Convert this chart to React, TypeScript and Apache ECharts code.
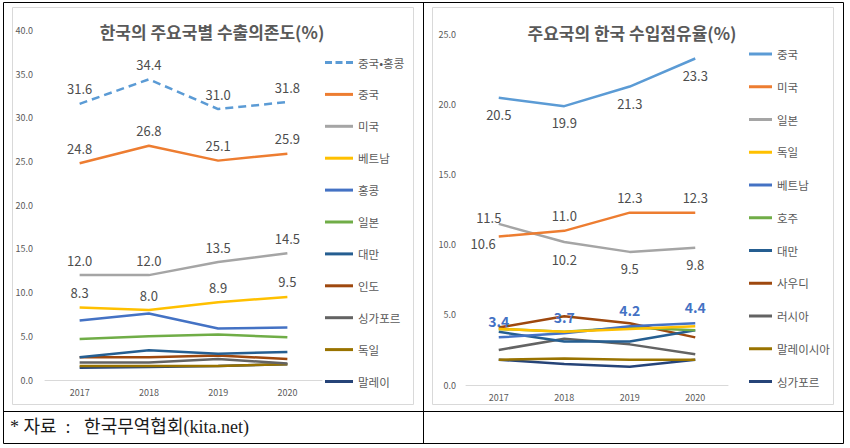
import React, { useEffect, useRef } from "react";
import * as echarts from "echarts";

const years = ["2017", "2018", "2019", "2020"];

// Left chart: 한국의 주요국별 수출의존도(%)
const leftNames = ["중국•홍콩", "중국", "미국", "베트남", "홍콩", "일본", "대만", "인도", "싱가포르", "독일", "말레이"];
const exChinaHK = [31.6, 34.4, 31.0, 31.8];
const exChina = [24.8, 26.8, 25.1, 25.9];
const exUSA = [12.0, 12.0, 13.5, 14.5];
const exVietnam = [8.3, 8.0, 8.9, 9.5];
const exHongKong = [6.8, 7.6, 5.9, 6.0];
const exJapan = [4.7, 5.0, 5.2, 4.9];
const exTaiwan = [2.6, 3.4, 3.0, 3.2];
const exIndia = [2.6, 2.6, 2.8, 2.4];
const exSingapore = [2.0, 2.0, 2.4, 1.9];
const exGermany = [1.6, 1.6, 1.6, 1.8];
const exMalaysia = [1.4, 1.5, 1.6, 1.8];
const leftValues = [exChinaHK, exChina, exUSA, exVietnam, exHongKong, exJapan, exTaiwan, exIndia, exSingapore, exGermany, exMalaysia];
const leftLabeled = [true, true, true, true, false, false, false, false, false, false, false];

// Right chart: 주요국의 한국 수입점유율(%)
const rightNames = ["중국", "미국", "일본", "독일", "베트남", "호주", "대만", "사우디", "러시아", "말레이시아", "싱가포르"];
const imChina = [20.5, 19.9, 21.3, 23.3];
const imUSA = [10.6, 11.0, 12.3, 12.3];
const imJapan = [11.5, 10.2, 9.5, 9.8];
const imGermany = [4.0, 3.8, 4.0, 4.2];
const imVietnam = [3.4, 3.7, 4.2, 4.4];
const imAustralia = [4.0, 3.8, 4.1, 3.9];
const imTaiwan = [3.8, 3.1, 3.1, 3.9];
const imSaudi = [4.1, 4.9, 4.4, 3.4];
const imRussia = [2.5, 3.3, 2.9, 2.2];
const imMalaysia = [1.8, 1.9, 1.8, 1.8];
const imSingapore = [1.8, 1.5, 1.3, 1.8];
const rightValues = [imChina, imUSA, imJapan, imGermany, imVietnam, imAustralia, imTaiwan, imSaudi, imRussia, imMalaysia, imSingapore];

const leftColors = ["#5B9BD5", "#ED7D31", "#A5A5A5", "#FFC000", "#4472C4", "#70AD47", "#255E91", "#9E480E", "#636363", "#997300", "#264478"];
const rightColors = ["#5B9BD5", "#ED7D31", "#A5A5A5", "#FFC000", "#4472C4", "#70AD47", "#255E91", "#9E480E", "#636363", "#997300", "#264478"];

const FONT = "'Noto Sans CJK KR', 'Noto Sans', sans-serif";
const R = "R:";
const DASH_ICON = "path://M0,0h7v3h-7z M10.5,0h7v3h-7z M21,0h7v3h-7z";
const SOURCE = "*\u00a0자료\u00a0\u00a0:\u00a0\u00a0\u00a0한국무역협회(kita.net)";

export default function App() {
  const ref = useRef<HTMLDivElement>(null);
  useEffect(() => {
    if (!ref.current) return;
    const chart = echarts.init(ref.current, null, { renderer: "svg" });
    const labelText = { color: "#4d4d4d", fontSize: 13, fontFamily: FONT };
    const fmt = (p: any) => Number(p.value).toFixed(1);

    const leftSeries = leftNames.map((n, i) => ({
      name: n,
      type: "line",
      xAxisIndex: 0,
      yAxisIndex: 0,
      data: leftValues[i],
      symbol: "circle",
      symbolSize: 0,
      showSymbol: true,
      z: 20 - i,
      lineStyle: { color: leftColors[i], width: 2.5, type: i === 0 ? [8, 5] : "solid" },
      itemStyle: { color: leftColors[i] },
      label: leftLabeled[i]
        ? { show: true, position: "top", distance: 8.5, formatter: fmt, ...labelText }
        : { show: false },
    }));

    const rightSeries = rightNames.map((n, i) => {
      let label: any = { show: false };
      let data: any[] = rightValues[i];
      if (i === 0) label = { show: true, position: "bottom", distance: 10, formatter: fmt, ...labelText };
      if (i === 1) {
        label = { show: true, position: "top", distance: 8.5, formatter: fmt, ...labelText };
        data = rightValues[i].map((v, k) =>
          k === 0 ? { value: v, label: { position: "left", distance: 3, offset: [0, 7] } } : v
        );
      }
      if (i === 2) {
        label = { show: true, position: "bottom", distance: 10.5, formatter: fmt, ...labelText };
        data = rightValues[i].map((v, k) =>
          k === 0 ? { value: v, label: { position: "top", distance: 0, offset: [-10, 0] } } : v
        );
      }
      if (i === 4)
        label = { show: true, position: "top", distance: 9, formatter: fmt, color: "#4472C4", fontSize: 14, fontWeight: "bold", fontFamily: FONT };
      return {
        name: R + n,
        type: "line",
        xAxisIndex: 1,
        yAxisIndex: 1,
        data,
        symbol: "circle",
        symbolSize: 0,
        showSymbol: true,
        z: 20 - i,
        lineStyle: { color: rightColors[i], width: 2.5 },
        itemStyle: { color: rightColors[i] },
        label,
      };
    });

    const axisLabel = { color: "#595959", fontSize: 9, fontFamily: FONT };

    chart.setOption({
      animation: false,
      backgroundColor: "#ffffff",
      textStyle: { fontFamily: FONT },
      grid: [
        { left: 45, top: 30.4, width: 277, height: 349.6, containLabel: false },
        { left: 466, top: 34.7, width: 262, height: 350.3, containLabel: false },
      ],
      xAxis: [
        {
          gridIndex: 0,
          type: "category",
          data: years,
          boundaryGap: true,
          axisLine: { show: true, lineStyle: { color: "#D9D9D9", width: 1 } },
          axisTick: { show: false },
          axisLabel: { ...axisLabel, margin: 8 },
        },
        {
          gridIndex: 1,
          type: "category",
          data: years,
          boundaryGap: true,
          axisLine: { show: true, lineStyle: { color: "#D9D9D9", width: 1 } },
          axisTick: { show: false },
          axisLabel: { ...axisLabel, margin: 8 },
        },
      ],
      yAxis: [
        {
          gridIndex: 0,
          type: "value",
          min: 0,
          max: 40,
          interval: 5,
          axisLine: { show: false },
          axisTick: { show: false },
          splitLine: { show: false },
          axisLabel: { ...axisLabel, margin: 12, formatter: (v: number) => v.toFixed(1) },
        },
        {
          gridIndex: 1,
          type: "value",
          min: 0,
          max: 25,
          interval: 5,
          axisLine: { show: false },
          axisTick: { show: false },
          splitLine: { show: false },
          axisLabel: { ...axisLabel, margin: 10, formatter: (v: number) => v.toFixed(1) },
        },
      ],
      legend: [
        {
          data: leftNames.map((n, i) => (i === 0 ? { name: n, icon: DASH_ICON } : { name: n, icon: "rect" })),
          orient: "vertical",
          left: 320,
          top: 50.5,
          itemWidth: 28,
          itemHeight: 3,
          itemGap: 17.9,
          selectedMode: false,
          textStyle: { color: "#595959", fontSize: 11.5, lineHeight: 14, fontFamily: FONT },
        },
        {
          data: rightNames.map((n) => ({ name: R + n, icon: "rect" })),
          orient: "vertical",
          left: 744,
          top: 42,
          itemWidth: 23,
          itemHeight: 3,
          itemGap: 18.75,
          selectedMode: false,
          formatter: (name: string) => name.replace(R, ""),
          textStyle: { color: "#595959", fontSize: 11.5, lineHeight: 14, fontFamily: FONT },
        },
      ],
      graphic: [
        { type: "rect", silent: true, z: -1, shape: { x: 12.5, y: 7.5, width: 401, height: 397 }, style: { fill: "none", stroke: "#D9D9D9", lineWidth: 1 } },
        { type: "rect", silent: true, z: -1, shape: { x: 432.5, y: 7.5, width: 401, height: 397 }, style: { fill: "none", stroke: "#D9D9D9", lineWidth: 1 } },
        { type: "rect", silent: true, shape: { x: 3.5, y: 2.5, width: 840, height: 441 }, style: { fill: "none", stroke: "#000000", lineWidth: 1 } },
        { type: "line", silent: true, shape: { x1: 423.5, y1: 2.5, x2: 423.5, y2: 443.5 }, style: { stroke: "#000000", lineWidth: 1 } },
        { type: "line", silent: true, shape: { x1: 3.5, y1: 411.5, x2: 843.5, y2: 411.5 }, style: { stroke: "#000000", lineWidth: 1 } },
        {
          type: "text",
          silent: true,
          x: 212,
          y: 31,
          style: { text: "한국의 주요국별 수출의존도(%)", fill: "#595959", font: `bold 17px ${FONT}`, textAlign: "center", textVerticalAlign: "middle" },
        },
        {
          type: "text",
          silent: true,
          x: 632,
          y: 32,
          style: { text: "주요국의 한국 수입점유율(%)", fill: "#595959", font: `bold 17px ${FONT}`, textAlign: "center", textVerticalAlign: "middle" },
        },
        {
          type: "text",
          silent: true,
          x: 10,
          y: 427,
          style: { text: SOURCE, fill: "#1a1a1a", font: `18px 'Liberation Serif', 'Noto Sans CJK KR', serif`, textAlign: "left", textVerticalAlign: "middle" },
        },
      ],
      series: [...leftSeries, ...rightSeries],
    });
    return () => chart.dispose();
  }, []);
  return (
    <div
      ref={ref}
      style={{ position: "fixed", left: 0, top: 0, width: 850, height: 448, background: "#fff" }}
    />
  );
}
